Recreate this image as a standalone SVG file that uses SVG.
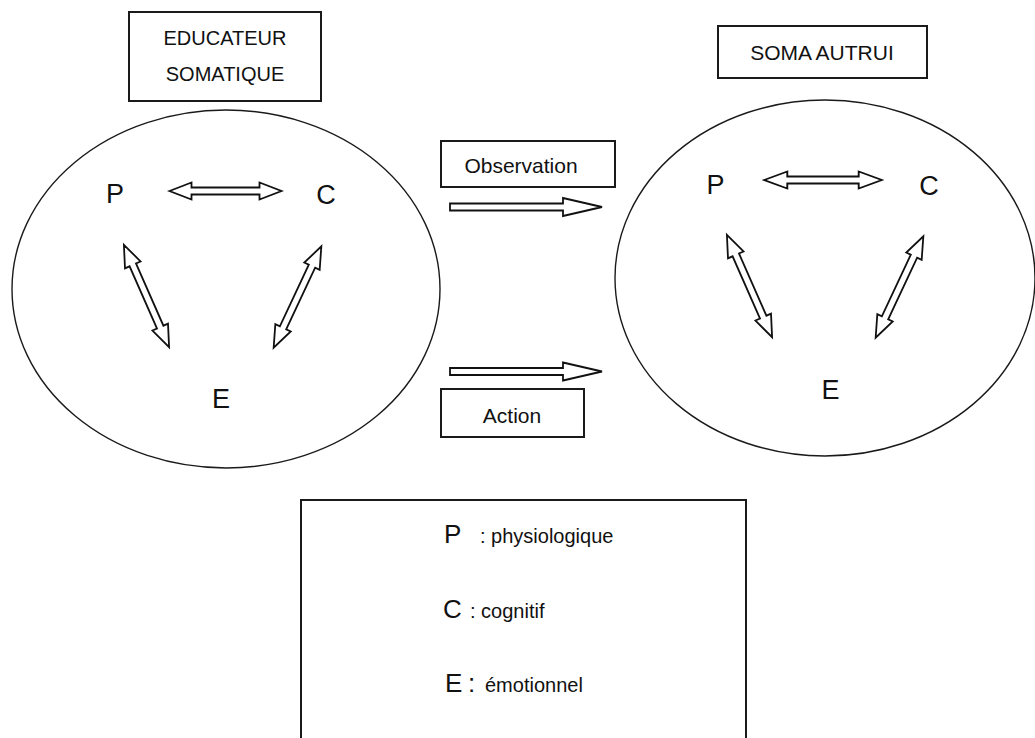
<svg xmlns="http://www.w3.org/2000/svg" width="1035" height="738" viewBox="0 0 1035 738">
  <defs>
    <style>
      .box { fill: #fff; stroke: #1a1a1a; stroke-width: 2; }
      .ell { fill: #fff; stroke: #1a1a1a; stroke-width: 1.4; }
      .arr { fill: #fff; stroke: #111; stroke-width: 1.8; stroke-linejoin: miter; }
      .t { font-family: "Liberation Sans", Arial, sans-serif; fill: #111; }
      .lbl { font-size: 20px; text-anchor: middle; }
      .big { font-size: 27px; text-anchor: middle; }
      .leg { font-size: 20px; }
      .legbig { font-size: 26px; }
    </style>
    <path id="dbl" d="M-56,0 L-34,-8.5 L-34,-3.5 L34,-3.5 L34,-8.5 L56,0 L34,8.5 L34,3.5 L-34,3.5 L-34,8.5 Z"/>
  </defs>
  <rect width="1035" height="738" fill="#fff"/>

  <g id="educateur-label">
    <rect class="box" x="129" y="12" width="192" height="89"/>
    <text class="t lbl" x="225" y="45">EDUCATEUR</text>
    <text class="t lbl" x="225" y="81">SOMATIQUE</text>
  </g>

  <g id="soma-label">
    <rect class="box" x="718" y="26" width="209" height="52"/>
    <text class="t lbl" x="822" y="60" style="font-size:21px">SOMA AUTRUI</text>
  </g>

  <g id="educateur">
    <ellipse class="ell" cx="226" cy="289" rx="214" ry="179"/>
    <text class="t big" x="115" y="203">P</text>
    <text class="t big" x="326" y="204">C</text>
    <text class="t big" x="221" y="408">E</text>
  </g>

  <g id="soma">
    <ellipse class="ell" cx="825" cy="278" rx="210" ry="178"/>
    <text class="t big" x="715.5" y="194">P</text>
    <text class="t big" x="929" y="195">C</text>
    <text class="t big" x="830.5" y="399">E</text>
  </g>

  <g id="observation-label">
    <rect class="box" x="441" y="141" width="174" height="46"/>
    <text class="t lbl" x="521" y="173" style="font-size:21px">Observation</text>
  </g>

  <g id="action-label">
    <rect class="box" x="441" y="389" width="143" height="48"/>
    <text class="t lbl" x="512" y="423" style="font-size:21px">Action</text>
  </g>

  <g id="connectors">
    <use href="#dbl" class="arr" transform="translate(225.5,191)"/>
    <use href="#dbl" class="arr" transform="translate(146.5,296) rotate(66.2)"/>
    <use href="#dbl" class="arr" transform="translate(297.5,297) rotate(115.2)"/>
    <use href="#dbl" class="arr" transform="translate(823,180) scale(1.05,1)"/>
    <use href="#dbl" class="arr" transform="translate(749.5,286) rotate(66.2)"/>
    <use href="#dbl" class="arr" transform="translate(899.5,287) rotate(115.2)"/>
    <path class="arr" d="M450,203.5 L563,203.5 L563,198 L602,207 L563,216 L563,210.5 L450,210.5 Z"/>
    <path class="arr" d="M450,368 L563,368 L563,362.5 L602,371.5 L563,380.5 L563,375 L450,375 Z"/>
  </g>

  <g id="legend">
    <rect class="box" x="301" y="500" width="445" height="245"/>
    <text class="t legbig" x="444" y="543">P</text>
    <text class="t leg" x="480" y="543">: physiologique</text>
    <text class="t legbig" x="443" y="618">C</text>
    <text class="t leg" x="470" y="618">: cognitif</text>
    <text class="t legbig" x="445" y="692">E</text>
    <text class="t legbig" x="468" y="692">:</text>
    <text class="t leg" x="485" y="692">émotionnel</text>
  </g>
</svg>
